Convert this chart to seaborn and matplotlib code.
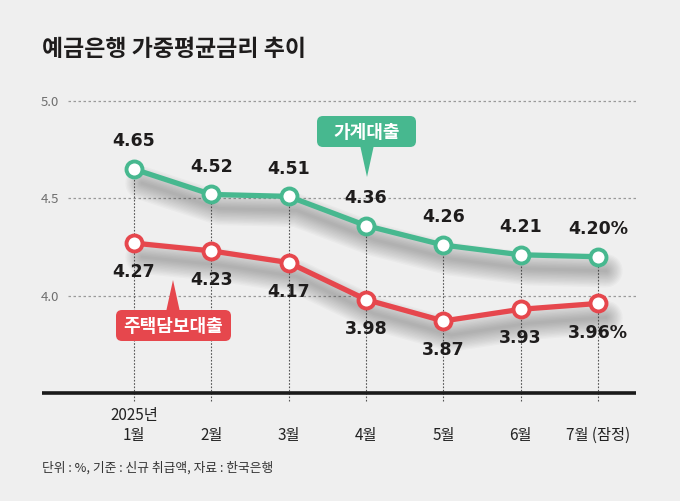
import pandas as pd
import seaborn as sns
import matplotlib.pyplot as plt
from matplotlib import transforms
from matplotlib.patches import FancyBboxPatch, Polygon

months = ['2025년\n1월', '\n2월', '\n3월', '\n4월', '\n5월', '\n6월', '\n7월 (잠정)']
household = [4.65, 4.52, 4.51, 4.36, 4.26, 4.21, 4.20]
mortgage = [4.27, 4.23, 4.17, 3.98, 3.87, 3.93, 3.96]
yticks = [4.0, 4.5, 5.0]

GREEN = '#47b88f'
RED = '#e6474d'
BG = '#efefef'
INK = '#1e1c1c'

sns.set_style('white')
plt.rcParams['font.family'] = ['Noto Sans CJK KR', 'DejaVu Sans']

df = pd.DataFrame({'pos': range(len(months)), 'household': household, 'mortgage': mortgage})

# layout in pixels of the reference
W, H = 680, 501
AX_L, AX_R, AX_T, AX_B = 42, 640, 80, 393
PX_X = 464 / 6          # px per month
PX_Y = 292 / 1.5        # px per percentage point
x0 = -(134 - AX_L) / PX_X
x1 = (AX_R - 134) / PX_X
y0 = 3.5
y1 = 3.5 + (AX_B - AX_T) / PX_Y


def px2x(px):
    return x0 + (px - AX_L) / PX_X


def px2y(py):
    return y0 + (AX_B - py) / PX_Y


fig = plt.figure(figsize=(W / 100, H / 100), dpi=100, facecolor=BG)
ax = fig.add_axes([AX_L / W, (H - AX_B) / H, (AX_R - AX_L) / W, (AX_B - AX_T) / H])
ax.set_facecolor(BG)
ax.set_xlim(x0, x1)
ax.set_ylim(y0, y1)

# dotted grid + verticals
ax.hlines(yticks, px2x(68), px2x(638), color='#9a9a9a', lw=0.9, linestyle=(0, (2, 2)), zorder=1)
ax.vlines(df['pos'], 3.5 - 8 / PX_Y, df['household'], color='#555555', lw=0.8,
          linestyle=(0, (1.5, 1.5)), zorder=2, clip_on=False)

# soft shadows under the lines (stacked translucent strokes)
shadow = transforms.offset_copy(ax.transData, fig=fig, x=8, y=-14, units='dots')
for col in ['household', 'mortgage']:
    for lw in range(24, 1, -2):
        ax.plot(df['pos'], df[col], color='#3a3a3a', lw=lw, alpha=0.03,
                solid_capstyle='round', solid_joinstyle='round', transform=shadow, zorder=3)

for col, color in [('household', GREEN), ('mortgage', RED)]:
    sns.lineplot(data=df, x='pos', y=col, color=color, lw=3.8, marker='o', ax=ax, zorder=5)
    line = ax.lines[-1]
    line.set_markersize(11.5)
    line.set_markerfacecolor('white')
    line.set_markeredgecolor(color)
    line.set_markeredgewidth(2.8)

# value labels
last = len(months) - 1
for i, v in enumerate(household):
    txt = f'{v:.2f}%' if i == last else f'{v:.2f}'
    ax.annotate(txt, (i, v), xytext=(0, 20), textcoords='offset points', ha='center', va='center',
                fontsize=12.5, fontweight='bold', family='DejaVu Sans', color=INK, zorder=6)
for i, v in enumerate(mortgage):
    txt = f'{v:.2f}%' if i == last else f'{v:.2f}'
    ax.annotate(txt, (i, v), xytext=(0, -21), textcoords='offset points', ha='center', va='center',
                fontsize=12.5, fontweight='bold', family='DejaVu Sans', color=INK, zorder=6)


def callout(label, color, left, right, top, bottom, tip, base_y):
    box = FancyBboxPatch((px2x(left), px2y(bottom)), (right - left) / PX_X, (bottom - top) / PX_Y,
                         boxstyle=f'round,pad=0,rounding_size={6 / PX_X}',
                         mutation_aspect=PX_X / PX_Y, fc=color, ec='none', zorder=7)
    ax.add_patch(box)
    tri = Polygon([(px2x(tip[0] - 7), px2y(base_y)), (px2x(tip[0] + 7), px2y(base_y)),
                   (px2x(tip[0]), px2y(tip[1]))], closed=True, fc=color, ec='none', zorder=7)
    ax.add_patch(tri)
    ax.text(px2x((left + right) / 2), px2y((top + bottom) / 2 + 1), label, ha='center', va='center',
            color='white', fontsize=13, fontweight='bold', zorder=8)


callout('가계대출', GREEN, 317, 416, 116, 147, (367, 177), 145)
callout('주택담보대출', RED, 116, 231, 310, 341, (173, 280), 312)

# bottom axis
ax.hlines(3.5, x0, px2x(636), color='#1a1a1a', lw=2.6, zorder=4, clip_on=False)

ax.set_xticks(df['pos'])
ax.set_xticklabels(months, fontsize=11, color='#222222', linespacing=1.25)
ax.set_yticks(yticks)
ax.set_yticklabels([f'{t:.1f}' for t in yticks], fontsize=9.5, color='#6f6f6f')
ax.tick_params(axis='x', length=0, pad=10)
ax.tick_params(axis='y', length=0, pad=-12)
ax.set(xlabel='', ylabel='')
sns.despine(ax=ax, left=True, bottom=True)

fig.text(42 / W, 1 - 50 / H, '예금은행 가중평균금리 추이', fontsize=16.5, fontweight='black',
         color=INK, ha='left', va='center')
fig.text(42 / W, 1 - 468 / H, '단위 : %, 기준 : 신규 취급액, 자료 : 한국은행', fontsize=9.2,
         color='#333333', ha='left', va='center')

fig.savefig('out.png', dpi=100, facecolor=BG)
